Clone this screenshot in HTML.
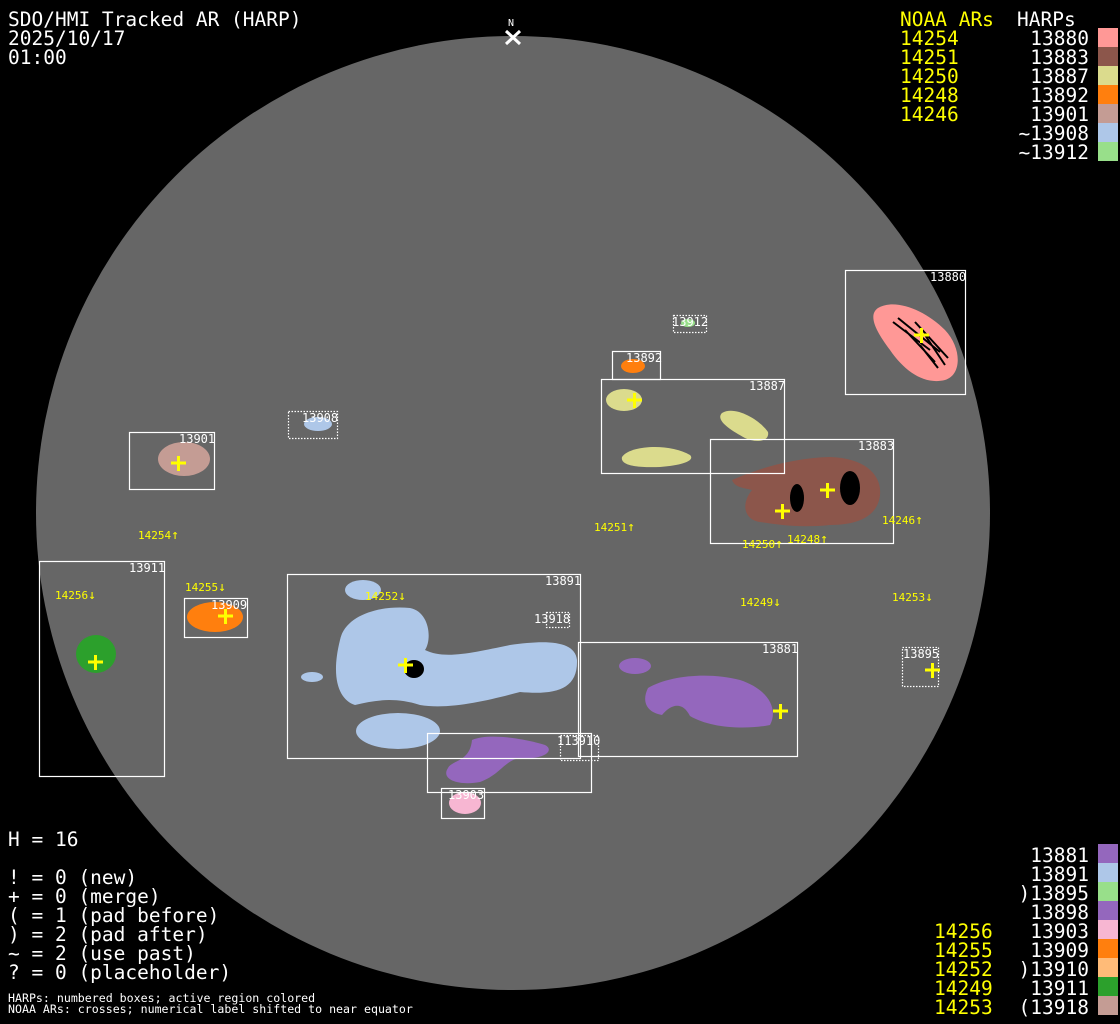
<!DOCTYPE html>
<html><head><meta charset="utf-8"><style>
html,body{margin:0;padding:0;background:#000;width:1120px;height:1024px;overflow:hidden}
svg{display:block}
text{font-family:"DejaVu Sans Mono","Liberation Mono",monospace}
.big{font-size:19.5px}
.bl{font-size:12px;fill:#fff}
.yl{font-size:11px;fill:#ff0}
.bx{fill:none;stroke:#fff;stroke-width:1.2}
.dt{fill:none;stroke:#fff;stroke-width:1.2;stroke-dasharray:1.5 1.5}
.cr{stroke:#ff0;stroke-width:3}
</style></head><body>
<svg width="1120" height="1024" viewBox="0 0 1120 1024">
<rect width="1120" height="1024" fill="#000"/>
<circle cx="513" cy="513" r="477" fill="#666"/>
<text x="508" y="26" font-size="10" fill="#fff">N</text>
<path d="M506 31 L520 44 M520 31 L506 44" stroke="#fff" stroke-width="3"/>

<path d="M878 308 C895 298 925 310 945 330 C962 348 962 375 945 380 C925 385 905 372 890 350 C875 330 868 315 878 308Z" fill="#ff9896"/>
<g stroke="#000" stroke-width="2" fill="none">
<path d="M893 322 L930 350 M898 318 L940 352 M905 330 L935 362 M915 322 L948 358 M925 335 L945 365 M920 345 L938 368"/>
</g>
<ellipse cx="688" cy="323" rx="7" ry="4" fill="#98df8a"/>
<ellipse cx="633" cy="366" rx="12" ry="7" fill="#ff7f0e"/>
<ellipse cx="624" cy="400" rx="18" ry="11" fill="#dbdb8d"/>
<path d="M722 413 C735 405 760 420 768 432 C770 442 755 443 745 438 C730 430 715 420 722 413Z" fill="#dbdb8d"/>
<path d="M622 457 C630 445 670 443 690 455 C695 460 685 465 660 467 C635 468 620 465 622 457Z" fill="#dbdb8d"/>
<path d="M732 480 C755 470 790 458 830 457 C865 458 882 475 880 495 C878 515 860 525 830 525 C800 528 780 525 760 522 C745 520 740 505 752 490 C745 488 735 488 732 480Z" fill="#8c564b"/>
<ellipse cx="797" cy="498" rx="7" ry="14" fill="#000"/>
<ellipse cx="850" cy="488" rx="10" ry="17" fill="#000"/>
<ellipse cx="318" cy="424" rx="14" ry="7" fill="#aec7e8"/>
<ellipse cx="184" cy="459" rx="26" ry="17" fill="#c49c94"/>
<ellipse cx="96" cy="654" rx="20" ry="19" fill="#2ca02c"/>
<ellipse cx="215" cy="617" rx="28" ry="15" fill="#ff7f0e"/>
<ellipse cx="363" cy="590" rx="18" ry="10" fill="#aec7e8"/>
<ellipse cx="312" cy="677" rx="11" ry="5" fill="#aec7e8"/>
<path d="M340 640 C345 615 380 605 410 608 C430 612 432 640 425 650 C445 660 475 652 510 645 C545 640 575 640 577 660 C578 690 555 695 520 692 C490 700 450 710 420 705 C395 697 375 700 355 705 C340 700 330 680 340 640Z" fill="#aec7e8"/>
<ellipse cx="414" cy="669" rx="10" ry="9" fill="#000"/>
<ellipse cx="398" cy="731" rx="42" ry="18" fill="#aec7e8"/>
<path d="M472 740 C490 732 530 740 545 745 C555 750 545 760 520 758 C505 760 500 775 480 782 C460 786 440 780 448 768 C452 760 470 762 472 740Z" fill="#9467bd"/>
<ellipse cx="635" cy="666" rx="16" ry="8" fill="#9467bd"/>
<path d="M648 688 C670 675 710 672 740 680 C770 690 778 710 770 725 C745 730 710 728 690 716 C682 700 670 705 662 715 C645 712 642 700 648 688Z" fill="#9467bd"/>
<ellipse cx="465" cy="803" rx="16" ry="11" fill="#f7b6d2"/>

<rect class="bx" x="845.5" y="270.5" width="120" height="124"/>
<rect class="dt" x="673.5" y="315.5" width="33" height="17"/>
<rect class="bx" x="612.5" y="351.5" width="48" height="28"/>
<rect class="bx" x="601.5" y="379.5" width="183" height="94"/>
<rect class="bx" x="710.5" y="439.5" width="183" height="104"/>
<rect class="dt" x="288.5" y="411.5" width="49" height="27"/>
<rect class="bx" x="129.5" y="432.5" width="85" height="57"/>
<rect class="bx" x="39.5" y="561.5" width="125" height="215"/>
<rect class="bx" x="184.5" y="598.5" width="63" height="39"/>
<rect class="bx" x="287.5" y="574.5" width="293" height="184"/>
<rect class="dt" x="546.5" y="612.5" width="23" height="15"/>
<rect class="bx" x="578.5" y="642.5" width="219" height="114"/>
<rect class="dt" x="902.5" y="647.5" width="36" height="39"/>
<rect class="bx" x="427.5" y="733.5" width="164" height="59"/>
<rect class="dt" x="560.5" y="735.5" width="38" height="25"/>
<rect class="bx" x="441.5" y="788.5" width="43" height="30"/>

<g class="bl">
<text x="930" y="281">13880</text><text x="672" y="326">13912</text>
<text x="626" y="362">13892</text><text x="749" y="390">13887</text>
<text x="858" y="450">13883</text><text x="302" y="422">13908</text>
<text x="179" y="443">13901</text><text x="129" y="572">13911</text>
<text x="211" y="609">13909</text><text x="545" y="585">13891</text>
<text x="534" y="623">13918</text><text x="762" y="653">13881</text>
<text x="903" y="658">13895</text><text x="557" y="745">113910</text>
<text x="448" y="799">13903</text>
</g>
<g class="yl">
<text x="138" y="539">14254<tspan font-size="13">↑</tspan></text><text x="594" y="531">14251<tspan font-size="13">↑</tspan></text>
<text x="882" y="524">14246<tspan font-size="13">↑</tspan></text><text x="742" y="548">14250<tspan font-size="13">↑</tspan></text>
<text x="787" y="543">14248<tspan font-size="13">↑</tspan></text><text x="55" y="599">14256<tspan font-size="13">↓</tspan></text>
<text x="185" y="591">14255<tspan font-size="13">↓</tspan></text><text x="365" y="600">14252<tspan font-size="13">↓</tspan></text>
<text x="740" y="606">14249<tspan font-size="13">↓</tspan></text><text x="892" y="601">14253<tspan font-size="13">↓</tspan></text>
</g>
<g class="cr">
<path d="M171 463h15M178.5 456v15"/><path d="M627 400h15M634.5 393v15"/>
<path d="M914 335h15M921.5 328v15"/><path d="M820 490h15M827.5 483v15"/>
<path d="M775 511h15M782.5 504v15"/><path d="M218 616h15M225.5 609v15"/>
<path d="M88 662h15M95.5 655v15"/><path d="M398 665h15M405.5 658v15"/>
<path d="M773 711h15M780.5 704v15"/><path d="M925 670h15M932.5 663v15"/>
</g>

<g class="big" fill="#fff">
<text x="8" y="26">SDO/HMI Tracked AR (HARP)</text>
<text x="8" y="45">2025/10/17</text>
<text x="8" y="64">01:00</text>
</g>
<g class="big">
<text x="900" y="26" fill="#ff0">NOAA ARs</text><text x="1017" y="26" fill="#fff">HARPs</text>
<text x="900" y="45" fill="#ff0">14254</text><text x="900" y="64" fill="#ff0">14251</text>
<text x="900" y="83" fill="#ff0">14250</text><text x="900" y="102" fill="#ff0">14248</text>
<text x="900" y="121" fill="#ff0">14246</text>
<g fill="#fff" text-anchor="end">
<text x="1089" y="45">13880</text><text x="1089" y="64">13883</text><text x="1089" y="83">13887</text>
<text x="1089" y="102">13892</text><text x="1089" y="121">13901</text><text x="1089" y="140">~13908</text>
<text x="1089" y="159">~13912</text>
</g>
</g>
<rect x="1098" y="28" width="20" height="19" fill="#ff9896"/>
<rect x="1098" y="47" width="20" height="19" fill="#8c564b"/>
<rect x="1098" y="66" width="20" height="19" fill="#dbdb8d"/>
<rect x="1098" y="85" width="20" height="19" fill="#ff7f0e"/>
<rect x="1098" y="104" width="20" height="19" fill="#c49c94"/>
<rect x="1098" y="123" width="20" height="19" fill="#aec7e8"/>
<rect x="1098" y="142" width="20" height="19" fill="#98df8a"/>

<g class="big" fill="#fff">
<text x="8" y="846">H = 16</text>
<text x="8" y="884">! = 0 (new)</text>
<text x="8" y="903">+ = 0 (merge)</text>
<text x="8" y="922">( = 1 (pad before)</text>
<text x="8" y="941">) = 2 (pad after)</text>
<text x="8" y="960">~ = 2 (use past)</text>
<text x="8" y="979">? = 0 (placeholder)</text>
</g>
<text x="8" y="1002" font-size="11.6" fill="#fff">HARPs: numbered boxes; active region colored</text>
<text x="8" y="1013" font-size="11.6" fill="#fff">NOAA ARs: crosses; numerical label shifted to near equator</text>

<g class="big">
<g fill="#fff" text-anchor="end">
<text x="1089" y="862">13881</text><text x="1089" y="881">13891</text><text x="1089" y="900">)13895</text>
<text x="1089" y="919">13898</text><text x="1089" y="938">13903</text><text x="1089" y="957">13909</text>
<text x="1089" y="976">)13910</text><text x="1089" y="995">13911</text><text x="1089" y="1014">(13918</text>
</g>
<g fill="#ff0">
<text x="934" y="938">14256</text><text x="934" y="957">14255</text><text x="934" y="976">14252</text>
<text x="934" y="995">14249</text><text x="934" y="1014">14253</text>
</g>
</g>
<rect x="1098" y="844" width="20" height="19" fill="#9467bd"/>
<rect x="1098" y="863" width="20" height="19" fill="#aec7e8"/>
<rect x="1098" y="882" width="20" height="19" fill="#98df8a"/>
<rect x="1098" y="901" width="20" height="19" fill="#9467bd"/>
<rect x="1098" y="920" width="20" height="19" fill="#f7b6d2"/>
<rect x="1098" y="939" width="20" height="19" fill="#ff7f0e"/>
<rect x="1098" y="958" width="20" height="19" fill="#ffbb78"/>
<rect x="1098" y="977" width="20" height="19" fill="#2ca02c"/>
<rect x="1098" y="996" width="20" height="19" fill="#c49c94"/>
</svg>
</body></html>
